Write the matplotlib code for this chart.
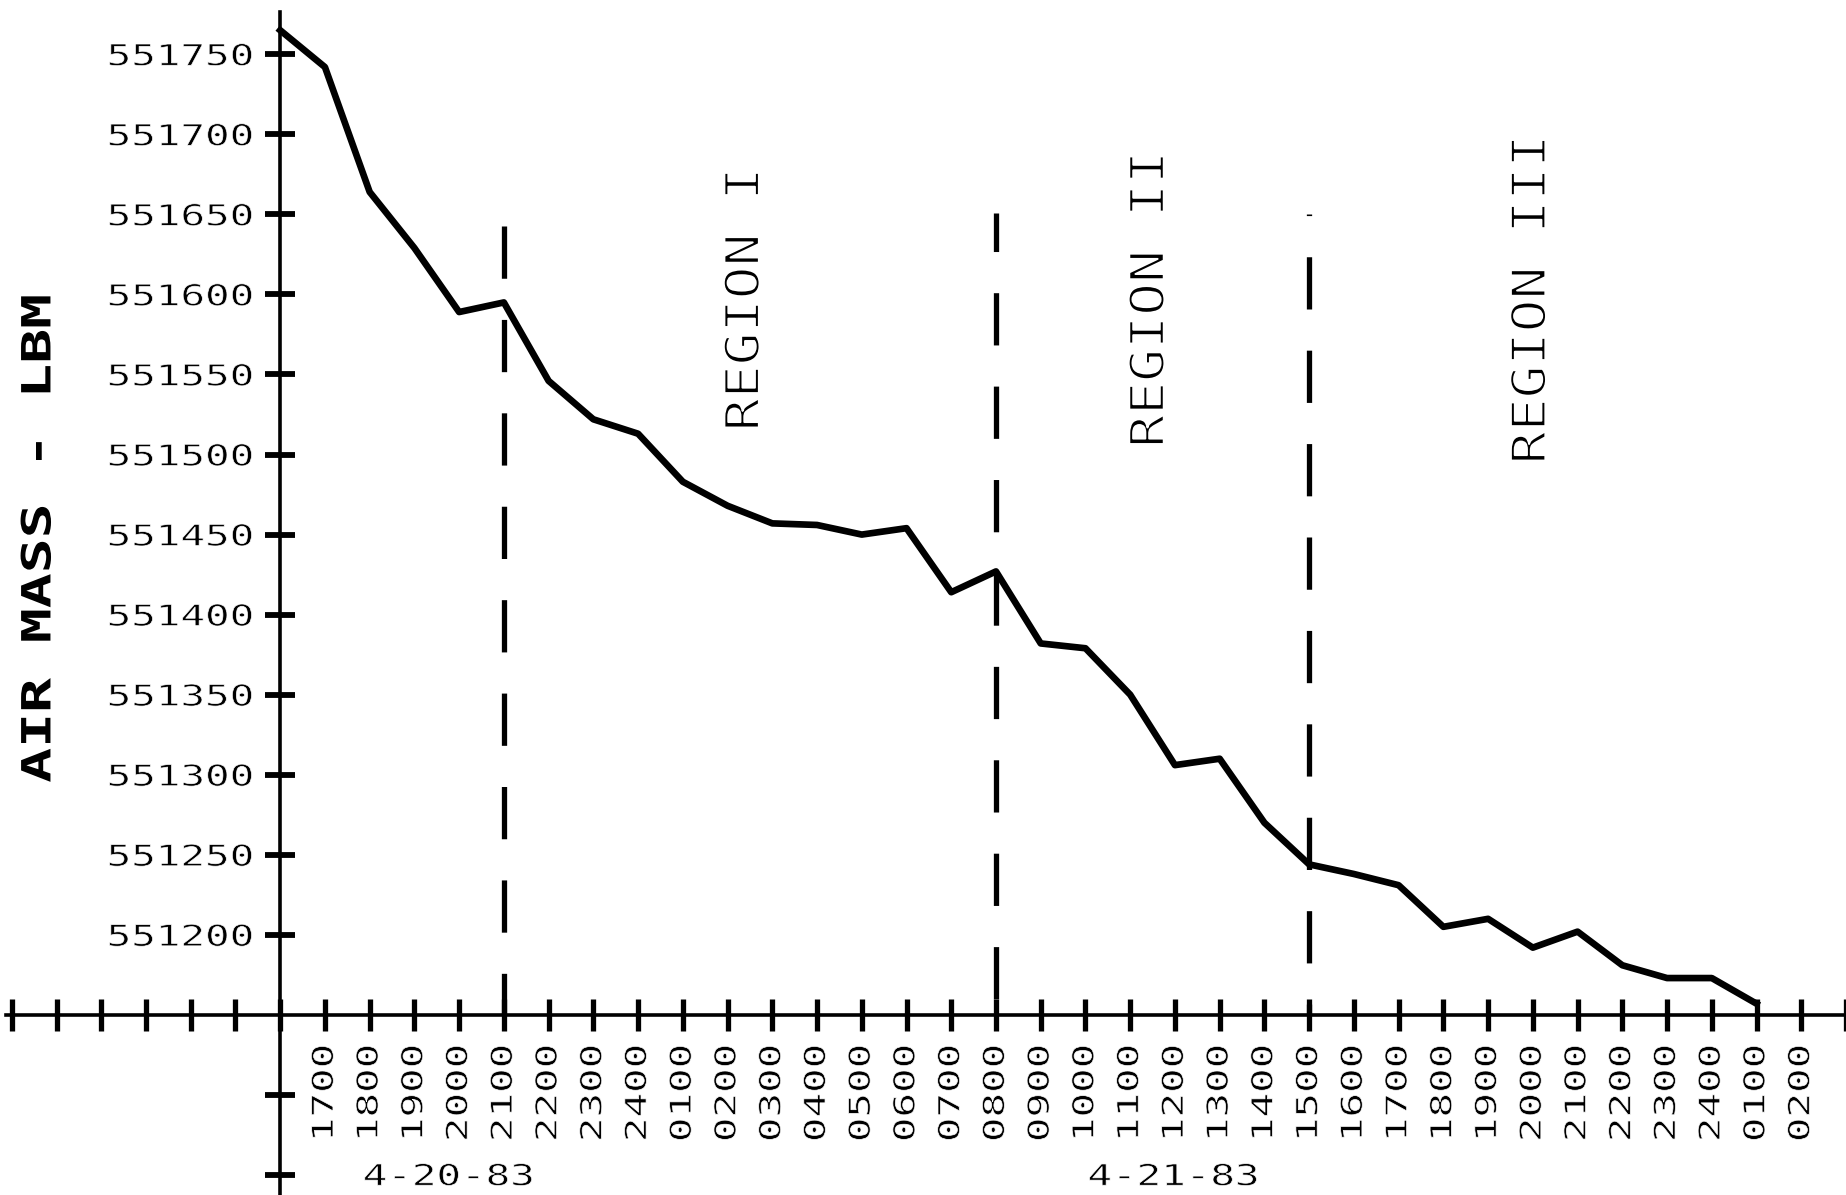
import numpy as np
import matplotlib
matplotlib.use("Agg")
import matplotlib.pyplot as plt
import matplotlib.patheffects as pe
from matplotlib.transforms import Affine2D

# hourly readings, 4-20-83 1600 through 4-22-83 0100
data_times = ['1600', '1700', '1800', '1900', '2000', '2100', '2200', '2300',
              '2400', '0100', '0200', '0300', '0400', '0500', '0600', '0700',
              '0800', '0900', '1000', '1100', '1200', '1300', '1400', '1500',
              '1600', '1700', '1800', '1900', '2000', '2100', '2200', '2300',
              '2400', '0100']
air_mass = [551765, 551742, 551664, 551629, 551589, 551595, 551546, 551522,
            551513, 551483, 551468, 551457, 551456, 551450, 551454, 551414,
            551427, 551382, 551379, 551350, 551306, 551310, 551270, 551244,
            551238, 551231, 551205, 551210, 551192, 551202, 551181, 551173,
            551173, 551157]

# x tick labels (hours 1700 .. 0200)
hour_labels = ['1700', '1800', '1900', '2000', '2100', '2200', '2300', '2400',
               '0100', '0200', '0300', '0400', '0500', '0600', '0700', '0800',
               '0900', '1000', '1100', '1200', '1300', '1400', '1500', '1600',
               '1700', '1800', '1900', '2000', '2100', '2200', '2300', '2400',
               '0100', '0200']
y_tick_values = [551200, 551250, 551300, 551350, 551400, 551450, 551500,
                 551550, 551600, 551650, 551700, 551750]
y_blank_ticks = [551050, 551100]

# region boundaries (2100, 0800, 1500) and where the dashed lines start
boundary_times = [5, 16, 23]
boundary_tops = [551643, 551651, 551650]
region_names = ['REGION I', 'REGION II', 'REGION III']
region_pos = [10.42, 19.47, 28.0]
dates = ['4-20-83', '4-21-83']
date_pos = [3.76, 19.96]

axis_y = 551150


class Stretch(pe.AbstractPathEffect):
    # widen glyphs along the text direction (plotter letter spacing),
    # optionally thin the strokes with a white outline
    def __init__(self, sx, anchor='center', thin=0.0):
        super().__init__()
        self.sx = sx
        self.anchor = anchor
        self.thin = thin

    def draw_path(self, renderer, gc, tpath, affine, rgbFace=None):
        if len(tpath.vertices) == 0:
            return
        ext = tpath.get_extents()
        a = {'left': ext.x0, 'center': 0.5 * (ext.x0 + ext.x1), 'right': ext.x1}[self.anchor]
        t = Affine2D().translate(-a, 0).scale(self.sx, 1).translate(a, 0) + affine
        renderer.draw_path(gc, tpath, t, rgbFace)
        if self.thin > 0:
            gc2 = renderer.new_gc()
            gc2.copy_properties(gc)
            gc2.set_foreground('white')
            gc2.set_linewidth(self.thin)
            renderer.draw_path(gc2, tpath, t, None)
            gc2.restore()


plt.rcParams['font.family'] = ['DejaVu Sans Mono']

fig = plt.figure(figsize=(18.46, 11.95), dpi=100)
ax = fig.add_axes([0, 0, 1, 1])
ax.set_xlim(-6.263, 35.0)
ax.set_ylim(551037.5, 551783.9)

x = np.arange(len(air_mass))
ax.plot(x, air_mass, color='black', lw=4.8, zorder=3)

offsets = [0, 2.6, 9.6]
for xb, top, off in zip(boundary_times, boundary_tops, offsets):
    ax.plot([xb, xb], [top, axis_y], color='black', lw=3.8,
            linestyle=(off, (9.9, 7.8)), zorder=2)

for sp in ['right', 'top']:
    ax.spines[sp].set_visible(False)
ax.spines['left'].set_position(('data', 0))
ax.spines['bottom'].set_position(('data', axis_y))
ax.spines['left'].set_bounds(551037.5, 551776.5)
ax.spines['bottom'].set_bounds(-6.13, 35.0)
ax.spines['left'].set_linewidth(2.6)
ax.spines['bottom'].set_linewidth(2.6)

xt = list(range(-6, 36))
ax.set_xticks(xt)
ax.set_xticklabels([''] * 7 + hour_labels + [''])
ax.set_yticks(y_blank_ticks + y_tick_values)
ax.set_yticklabels([''] * len(y_blank_ticks) + [str(v) for v in y_tick_values])

ax.tick_params(axis='x', direction='inout', length=23, width=3.8, pad=10,
               labelsize=21, labelrotation=90)
ax.tick_params(axis='y', direction='inout', length=21, width=4.2, pad=9,
               labelsize=21)

for lab in ax.get_xticklabels() + ax.get_yticklabels():
    lab.set_path_effects([Stretch(1.4, 'right', thin=0.5)])

ax.set_ylabel('AIR MASS - LBM', fontsize=29, fontweight='bold')
ax.yaxis.set_label_coords(0.0211, 0.5493)
ax.yaxis.label.set_va('center')
ax.yaxis.label.set_path_effects([Stretch(1.44, 'center')])

for name, xp in zip(region_names, region_pos):
    ax.text(xp, 551597, name, rotation=90, ha='center', va='center',
            fontsize=34, path_effects=[Stretch(1.16, 'center', thin=1.4)])

for d, xp in zip(dates, date_pos):
    ax.text(xp, 551048.6, d, ha='center', va='center', fontsize=21,
            path_effects=[Stretch(1.4, 'center', thin=0.5)])

fig.savefig('out.png', dpi=100)
